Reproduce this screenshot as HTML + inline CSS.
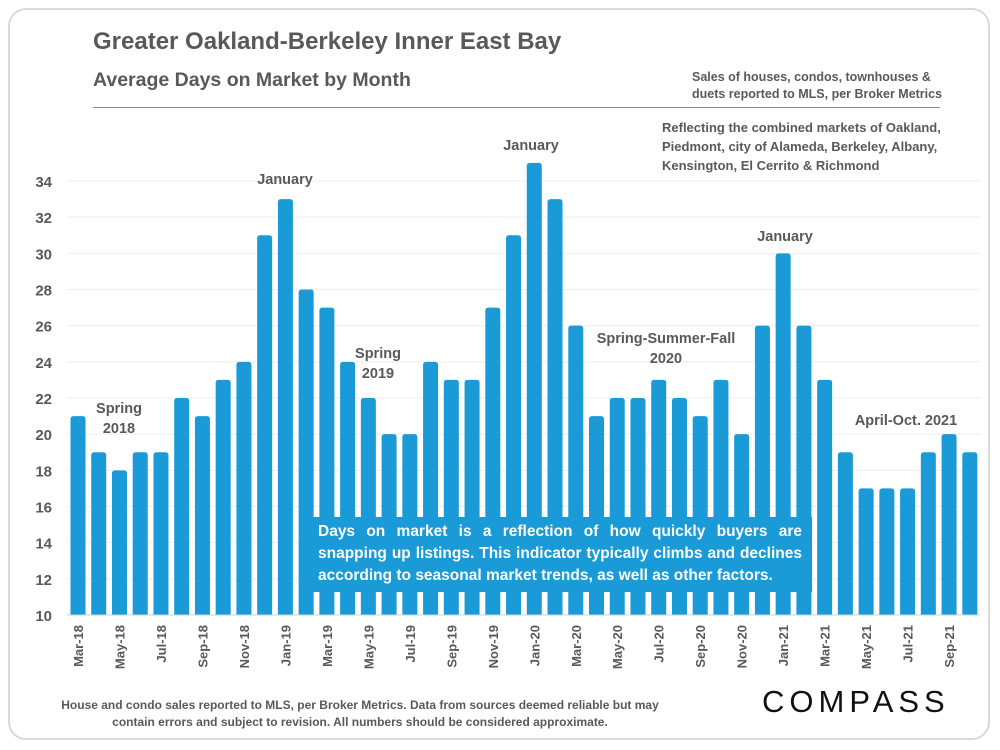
<!DOCTYPE html>
<html><head><meta charset="utf-8"><style>
body{margin:0;width:1000px;height:750px;background:#fff;font-family:"Liberation Sans",sans-serif;overflow:hidden}
#card{position:absolute;left:8px;top:8px;width:982px;height:732px;border:2px solid #d9d9d9;border-radius:18px;box-sizing:border-box}
.t{position:absolute;color:#595959;font-weight:bold}
</style></head><body>
<div id="card"></div>
<div class="t" style="left:93px;top:28px;font-size:24px">Greater Oakland-Berkeley Inner East Bay</div>
<div class="t" style="left:93px;top:69px;font-size:19.5px">Average Days on Market by Month</div>
<div style="position:absolute;left:93px;top:107px;width:847px;height:1px;background:#888"></div>
<div class="t" style="left:692px;top:69px;font-size:12.5px;line-height:17px">Sales of houses, condos, townhouses &amp;<br>duets reported to MLS, per Broker Metrics</div>
<div class="t" style="left:662px;top:118px;font-size:13px;line-height:19px">Reflecting the combined markets of Oakland,<br>Piedmont, city of Alameda, Berkeley, Albany,<br>Kensington, El Cerrito &amp; Richmond</div>
<svg id="chart" width="1000" height="750" style="position:absolute;left:0;top:0"></svg>
<div style="position:absolute;left:308px;top:517px;width:504px;height:75px;background:#1a9ad6;color:#fff;font-weight:bold;font-size:15.5px;line-height:22px;padding:4px 10px;box-sizing:border-box;text-align:justify">Days on market is a reflection of how quickly buyers are snapping up listings. This indicator typically climbs and declines according to seasonal market trends, as well as other factors.</div>
<div class="t" style="left:40px;top:697px;width:640px;text-align:center;font-size:12px;line-height:17px">House and condo sales reported to MLS, per Broker Metrics. Data from sources deemed reliable but may contain errors and subject to revision. All numbers should be considered approximate.</div>
<div style="position:absolute;left:762px;top:684px;font-size:31px;letter-spacing:5px;color:#111">COMPASS</div>
<script>
const months=["Mar-18","Apr-18","May-18","Jun-18","Jul-18","Aug-18","Sep-18","Oct-18","Nov-18","Dec-18","Jan-19","Feb-19","Mar-19","Apr-19","May-19","Jun-19","Jul-19","Aug-19","Sep-19","Oct-19","Nov-19","Dec-19","Jan-20","Feb-20","Mar-20","Apr-20","May-20","Jun-20","Jul-20","Aug-20","Sep-20","Oct-20","Nov-20","Dec-20","Jan-21","Feb-21","Mar-21","Apr-21","May-21","Jun-21","Jul-21","Aug-21","Sep-21","Oct-21"];
const days=[21,19,18,19,19,22,21,23,24,31,33,28,27,24,22,20,20,24,23,23,27,31,35,33,26,21,22,22,23,22,21,23,20,26,30,26,23,19,17,17,17,19,20,19];
const yTicks=[10,12,14,16,18,20,22,24,26,28,30,32,34];
const annotations=[["Spring","2018",119,413],["January","",285,184],["Spring","2019",378,358],["January","",531,150],["Spring-Summer-Fall","2020",666,343],["January","",785,241],["April-Oct.  2021","",906,425]];
const NS="http://www.w3.org/2000/svg",svg=document.getElementById('chart');
const y=v=>615-(v-10)*434/24, x=i=>78+i*20.74;
function el(t,a,txt){const e=document.createElementNS(NS,t);for(const k in a)e.setAttribute(k,a[k]);if(txt!==undefined)e.textContent=txt;svg.appendChild(e);return e;}
yTicks.forEach(v=>{
 const g=el('line',{x1:67,x2:980,y1:y(v),y2:y(v),stroke:'#eeeeee'});
 
 
 const t=el('text',{x:52,y:y(v)+6,'text-anchor':'end','font-size':15,'font-weight':'bold',fill:'#595959'},v);
 
 
});
days.forEach((d,i)=>{
 const top=Math.max(y(d),161);
 const b=el('path',{d:`M${x(i)-7.5},615 V${top+3} Q${x(i)-7.5},${top} ${x(i)-4.5},${top} H${x(i)+4.5} Q${x(i)+7.5},${top} ${x(i)+7.5},${top+3} V615 Z`,fill:'#1a9ad6'});
 
 
 if(i%2==0){
  const t=el('text',{transform:`translate(${x(i)+5},${625}) rotate(-90)`,'text-anchor':'end','font-size':13,'font-weight':'bold',fill:'#595959'},months[i]);
  
  
 }
});
const ax=el('line',{x1:67,x2:980,y1:615,y2:615,stroke:'#d0d0d0'});


annotations.forEach(a=>{
 const t=el('text',{x:a[2],y:a[3],'text-anchor':'middle','font-size':14.5,'font-weight':'bold',fill:'#595959'},a[0]);
 
 
 if(a[1]){const t2=el('text',{x:a[2],y:a[3]+20,'text-anchor':'middle','font-size':14.5,'font-weight':'bold',fill:'#595959'},a[1]);
 
 }
});
</script>
</body></html>
